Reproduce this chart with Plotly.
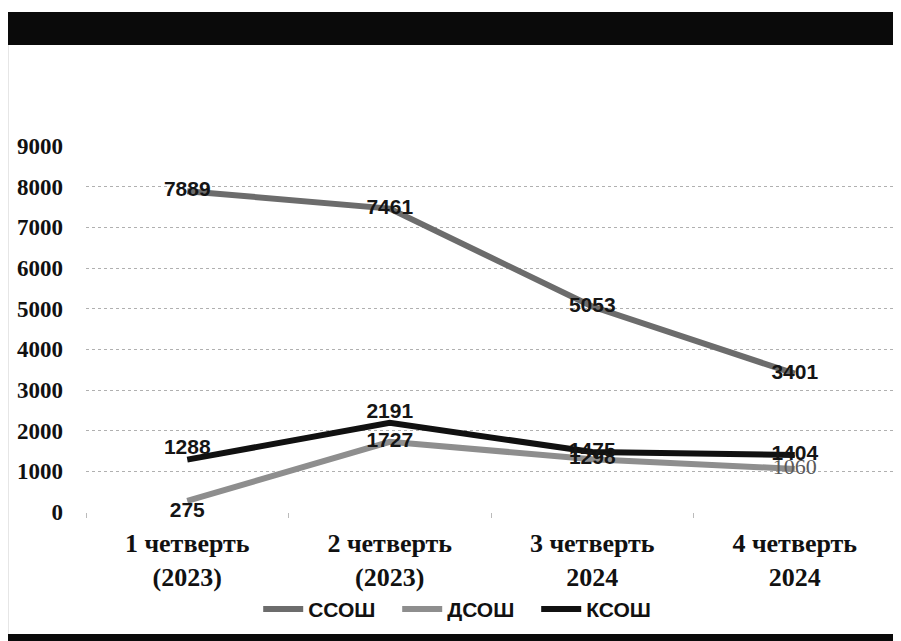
import plotly.graph_objects as go

categories = ["1 четверть<br>(2023)", "2 четверть<br>(2023)", "3 четверть<br>2024", "4 четверть<br>2024"]
ssosh = [7889, 7461, 5053, 3401]
dsosh = [275, 1727, 1298, 1060]
ksosh = [1288, 2191, 1475, 1404]
series_names = ["ССОШ", "ДСОШ", "КСОШ"]
y_ticks = [0, 1000, 2000, 3000, 4000, 5000, 6000, 7000, 8000, 9000]

lab_font = "Liberation Sans"
serif = "Liberation Serif"

fig = go.Figure()

fig.add_trace(go.Scatter(
    x=categories, y=ssosh, name=series_names[0], mode="lines+text", cliponaxis=False,
    line=dict(color="#6c6c6c", width=6),
    text=[str(v) for v in ssosh], textposition="middle center",
    textfont=dict(family=lab_font, size=21, color="#151515", weight="bold"),
))
fig.add_trace(go.Scatter(
    x=categories, y=dsosh, name=series_names[1], mode="lines+text", cliponaxis=False,
    line=dict(color="#8e8e8e", width=6),
    text=[str(v) for v in dsosh],
    textposition=["bottom center", "middle center", "middle center", "middle center"],
    textfont=dict(family=[lab_font, lab_font, lab_font, serif], size=[21, 21, 21, 22],
                  color=["#151515", "#151515", "#151515", "#5a5a5a"],
                  weight=["bold", "bold", "bold", "normal"]),
))
fig.add_trace(go.Scatter(
    x=categories, y=ksosh, name=series_names[2], mode="lines+text", cliponaxis=False,
    line=dict(color="#111111", width=6),
    text=[str(v) for v in ksosh],
    textposition=["top center", "top center", "middle center", "middle center"],
    textfont=dict(family=lab_font, size=21, color="#151515", weight="bold"),
))

# page decorations (scanned page frame)
fig.add_shape(type="rect", xref="paper", yref="paper", x0=-0.10, x1=1.02, y0=1.276, y1=1.366,
              fillcolor="#0a0a0a", line_width=0, layer="above")
fig.add_shape(type="line", xref="paper", yref="paper", x0=-0.0963, x1=-0.0963, y0=-0.333, y1=1.276,
              line=dict(color="#cccccc", width=1))
fig.add_shape(type="rect", xref="paper", yref="paper", x0=-0.0963, x1=1.02, y0=-0.36, y1=-0.333,
              fillcolor="#0a0a0a", line_width=0)

fig.update_layout(
    width=893, height=633,
    margin=dict(l=78, r=5, t=138, b=129, autoexpand=False),
    paper_bgcolor="white", plot_bgcolor="white",
    showlegend=True,
    legend=dict(orientation="h", xref="paper", x=0.47, xanchor="center",
                yref="container", y=0.05, yanchor="middle",
                bgcolor="rgba(0,0,0,0)",
                font=dict(family=lab_font, size=21, color="#111", weight="bold"),
                itemwidth=40, entrywidth=84, tracegroupgap=0),
    xaxis=dict(range=[-0.5, 3.5], showgrid=False, showline=False, zeroline=False,
               automargin=False,
               ticks="outside", tickson="boundaries", ticklen=5, tickcolor="#bbbbbb",
               tickfont=dict(family=serif, size=26, color="#111", weight="bold"),
               ticklabelstandoff=13),
    yaxis=dict(range=[0, 9000], tickvals=y_ticks, showline=False, zeroline=False,
               automargin=False,
               showgrid=True, gridcolor="#b0b0b0", griddash="dot", gridwidth=1,
               tickfont=dict(family=serif, size=23, color="#111", weight="bold"),
               ticklabelstandoff=22),
)

fig.write_html("out.html")
